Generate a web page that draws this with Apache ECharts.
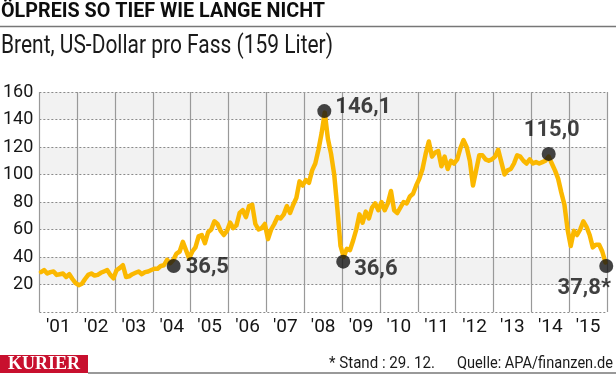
<!DOCTYPE html>
<html>
<head>
<meta charset="utf-8">
<script src="https://cdn.jsdelivr.net/npm/echarts@6/dist/echarts.min.js"></script>
<style>
html, body { margin: 0; padding: 0; background: #fff; }
#chart { width: 616px; height: 376px; }
</style>
</head>
<body>
<div id="chart"></div>
<script>
// Jahreslabels der x-Achse
var yearLabels = ["'01", "'02", "'03", "'04", "'05", "'06", "'07", "'08",
                  "'09", "'10", "'11", "'12", "'13", "'14", "'15"];

// Brent, monatlich ab Jan 2001 (USD/Fass)
var brent = [
    29, 30.5, 28, 29, 29.5, 27, 27.5, 28, 25.5, 27.5, 24, 21,        // 2001
    19.5, 20.5, 24, 27, 28, 26.5, 27, 28.5, 29.5, 30.5, 27, 24.5,    // 2002
    30.5, 32, 34, 25.5, 26, 27.5, 28.5, 29.5, 27.5, 29, 29.5, 30.5,  // 2003
    31.5, 31.5, 33.5, 34, 38, 35.5, 38, 42.5, 44, 51, 45, 39,        // 2004
    44, 47, 55, 56, 50, 58, 60, 66, 64, 59, 56, 59,                  // 2005
    65, 61, 63, 72, 74, 69, 77, 78, 64, 60, 61, 64,                  // 2006
    53, 60, 64, 69, 68, 71, 77, 72, 78, 83, 95, 92,                  // 2007
    96, 94, 103, 108, 118, 130, 145, 126, 115, 100, 75, 48,          // 2008
    40, 46, 45, 52, 60, 71, 65, 73, 68, 76, 79, 74,                  // 2009
    80, 74, 79, 88, 74, 72, 76, 80, 79, 84, 86, 92,                  // 2010
    97, 104, 115, 124, 113, 116, 117, 106, 113, 104, 110, 108,       // 2011
    111, 119, 125, 120, 110, 92, 103, 114, 114, 111, 110, 111,       // 2012
    113, 118, 109, 100, 103, 104, 108, 114, 113, 110, 108, 111,      // 2013
    108, 109, 108, 109, 110, 113, 108, 103, 97, 87, 78, 60,          // 2014
    48, 59, 56, 60, 66, 62, 56, 47, 49, 49, 44, 36                   // 2015
];

// markierte Punkte
var markDates  = [2004.55, 2008.53, 2009.03, 2014.46, 2015.98];
var markValues = [33.5, 146.1, 36.6, 115.0, 33.5];
var markLabels = ['36,5', '146,1', '36,6', '115,0', '37,8*'];

var fontName = 'Roboto, "Liberation Sans", sans-serif';

$chart = echarts.init(document.getElementById('chart'));

// Schrift ist breiter als das Original -> horizontal stauchen
var measureCtx = document.createElement('canvas').getContext('2d');
fitScale = function (text, font, width) {
    measureCtx.font = font;
    return width / measureCtx.measureText(text).width;
};

var lineData = brent.map(function (v, i) {
    return [2001 + (i + 0.5) / 12, v];
});

// Label-Platzierung je Punkt
var labelPos = [
    { position: 'right', distance: 5, offset: [0, 2] },
    { position: 'right', distance: 4, offset: [0, -4] },
    { position: 'right', distance: 4, offset: [0, 8] },
    { position: 'top', distance: 5, offset: [3, 0] },
    { position: 'bottom', distance: 5, offset: [-22, 0] }
];
var markData = markDates.map(function (d, i) {
    return {
        value: [d, markValues[i]],
        label: {
            show: true,
            formatter: markLabels[i],
            position: labelPos[i].position,
            distance: labelPos[i].distance,
            offset: labelPos[i].offset
        }
    };
});

var titleFont = 'bold 20px ' + fontName;
var subFont = '25px ' + fontName;
var footFont = '17px ' + fontName;
var title = 'ÖLPREIS SO TIEF WIE LANGE NICHT';
var subtitle = 'Brent, US-Dollar pro Fass (159 Liter)';
var stand = '* Stand : 29. 12.';
var quelle = 'Quelle: APA/finanzen.de';

var option = {
    backgroundColor: '#ffffff',
    animation: false,
    grid: { left: 36, right: 9, top: 92, bottom: 64 },
    xAxis: [{
        type: 'value',
        min: 2001,
        max: 2016,
        interval: 1,
        axisLine: { show: false },
        axisTick: { show: false },
        axisLabel: { show: false },
        splitLine: { show: true, lineStyle: { color: '#999', width: 1.2 } }
    }, {
        type: 'category',
        data: yearLabels,
        boundaryGap: true,
        position: 'bottom',
        axisLine: { show: false },
        axisTick: { show: false },
        splitLine: { show: false },
        axisLabel: { interval: 0, margin: 6, fontSize: 19, fontFamily: fontName, color: '#151515' }
    }],
    yAxis: {
        type: 'value',
        min: 0,
        max: 160,
        interval: 20,
        axisLine: { show: false },
        axisTick: { show: false },
        axisLabel: {
            margin: 6, fontSize: 18, fontFamily: fontName, color: '#151515',
            formatter: function (v) { return v === 0 ? '' : v; }
        },
        splitLine: { show: true, lineStyle: { type: [2, 2], color: '#8a8a8a', width: 1 } },
        splitArea: { show: true, areaStyle: { color: ['#ffffff', '#f2f2f2'] } }
    },
    series: [{
        name: 'Brent',
        type: 'line',
        xAxisIndex: 0,
        data: lineData,
        showSymbol: false,
        smooth: false,
        lineStyle: { color: '#fbb800', width: 4.5, join: 'round', cap: 'round' }
    }, {
        name: 'Marken',
        type: 'scatter',
        xAxisIndex: 0,
        data: markData,
        symbolSize: 14,
        itemStyle: { color: '#151515' },
        label: { fontSize: 22, fontWeight: 'bold', fontFamily: fontName, color: '#111' },
        z: 5
    }],
    graphic: [
        { type: 'text', x: 1, y: 12, scaleX: fitScale(title, titleFont, 324),
          style: { text: title, font: titleFont, fill: '#0d0d0d', verticalAlign: 'middle' } },
        { type: 'line', shape: { x1: 0, y1: 26.5, x2: 616, y2: 26.5 }, style: { stroke: '#777', lineWidth: 1.5 } },
        { type: 'text', x: 1, y: 47, scaleX: fitScale(subtitle, subFont, 332),
          style: { text: subtitle, font: subFont, fill: '#1a1a1a', verticalAlign: 'middle' } },
        { type: 'rect', shape: { x: 0, y: 355, width: 88, height: 18 }, style: { fill: '#c8102e' } },
        { type: 'text', x: 44, y: 364.5, style: { text: 'KURIER', font: 'bold 18px "Liberation Serif", "DejaVu Serif", serif', fill: '#fff', align: 'center', verticalAlign: 'middle' } },
        { type: 'line', shape: { x1: 88, y1: 373, x2: 616, y2: 373 }, style: { stroke: '#777', lineWidth: 1.5 } },
        { type: 'text', x: 435, y: 364, scaleX: fitScale(stand, footFont, 106),
          style: { text: stand, font: footFont, fill: '#1a1a1a', align: 'right', verticalAlign: 'middle' } },
        { type: 'text', x: 613, y: 364, scaleX: fitScale(quelle, footFont, 156),
          style: { text: quelle, font: footFont, fill: '#1a1a1a', align: 'right', verticalAlign: 'middle' } }
    ]
};

$chart.setOption(option);
</script>
</body>
</html>
